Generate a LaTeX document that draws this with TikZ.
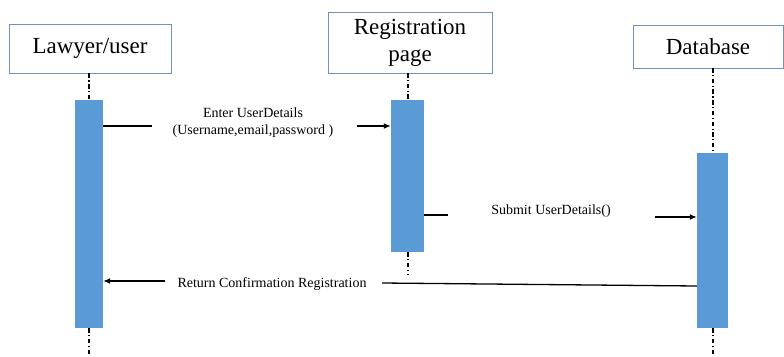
\documentclass[tikz,border=0pt]{standalone}
\usepackage{fontspec}
\newfontfamily\timesfont{Liberation Serif}
\usetikzlibrary{arrows.meta}
\definecolor{boxblue}{RGB}{112,146,190}
\definecolor{barblue}{RGB}{91,155,213}

\begin{document}
\begin{tikzpicture}[x=1pt,y=-1pt,
  actor/.style={draw=boxblue, line width=0.9pt, align=center, inner sep=0pt,
    font=\timesfont\fontsize{23}{27}\selectfont},
  actbar/.style={fill=barblue, draw=none, inner sep=0pt},
  lifeline/.style={line width=1.3pt, dash pattern=on 4.5pt off 2.5pt on 1.2pt off 2.5pt},
  msg/.style={line width=1.3pt},
  arr/.style={msg, -{Latex[length=7pt,width=6pt]}},
  lbl/.style={font=\timesfont\fontsize{14}{17}\selectfont, align=center, inner sep=0pt}]

  \useasboundingbox (0,0) rectangle (784,356);

  % participants
  \node[actor, minimum width=162pt, minimum height=49pt] (law) at (90,48.5) {Lawyer/user};
  \node[actor, minimum width=164pt, minimum height=61pt] (reg) at (410,42.5) {Registration\\page};
  \node[actor, minimum width=150pt, minimum height=43pt] (db) at (708,46.5) {Database};

  % activation bars
  \node[actbar, minimum width=28pt, minimum height=228pt] (lawbar) at (89,214) {};
  \node[actbar, minimum width=33pt, minimum height=152pt] (regbar) at (407.5,176) {};
  \node[actbar, minimum width=31pt, minimum height=175pt] (dbbar) at (712.5,240.5) {};

  % lifelines
  \coordinate (lawend) at (89,356);
  \coordinate (regend) at (408,274);
  \coordinate (dbend) at (713,356);
  \draw[lifeline] (lawbar.north |- law.south) -- (lawbar.north);
  \draw[lifeline] (lawbar.south) -- (lawend);
  \draw[lifeline] (408,73) coordinate (regtop) -- (regtop |- regbar.north);
  \draw[lifeline] (regtop |- regbar.south) -- (regend);
  \draw[lifeline] (713,68) coordinate (dbtop) -- (dbtop |- dbbar.north);
  \draw[lifeline] (dbtop |- dbbar.south) -- (dbend);

  % message 1
  \node[lbl] (m1) at (253,123) {Enter UserDetails\\(Username,email,password )};
  \coordinate (m1a) at (152,126);
  \coordinate (m1b) at (357,126);
  \draw[msg] (lawbar.east |- m1a) -- (m1a);
  \draw[arr] (m1b) -- (regbar.west |- m1b);

  % message 2
  \node[lbl] (m2) at (551,211) {Submit UserDetails()};
  \coordinate (m2a) at (448,215);
  \coordinate (m2b) at (655,217);
  \draw[msg] (regbar.east |- m2a) -- (m2a);
  \draw[arr] (m2b) -- (dbbar.west |- m2b);

  % return message
  \node[lbl] (m3) at (272,284) {Return Confirmation Registration};
  \coordinate (m3a) at (382,283);
  \coordinate (m3s) at (697,286);
  \coordinate (m3b) at (165,281);
  \draw[msg] (dbbar.west |- m3s) -- (m3a);
  \draw[arr] (m3b) -- (lawbar.east |- m3b);
\end{tikzpicture}
\end{document}
